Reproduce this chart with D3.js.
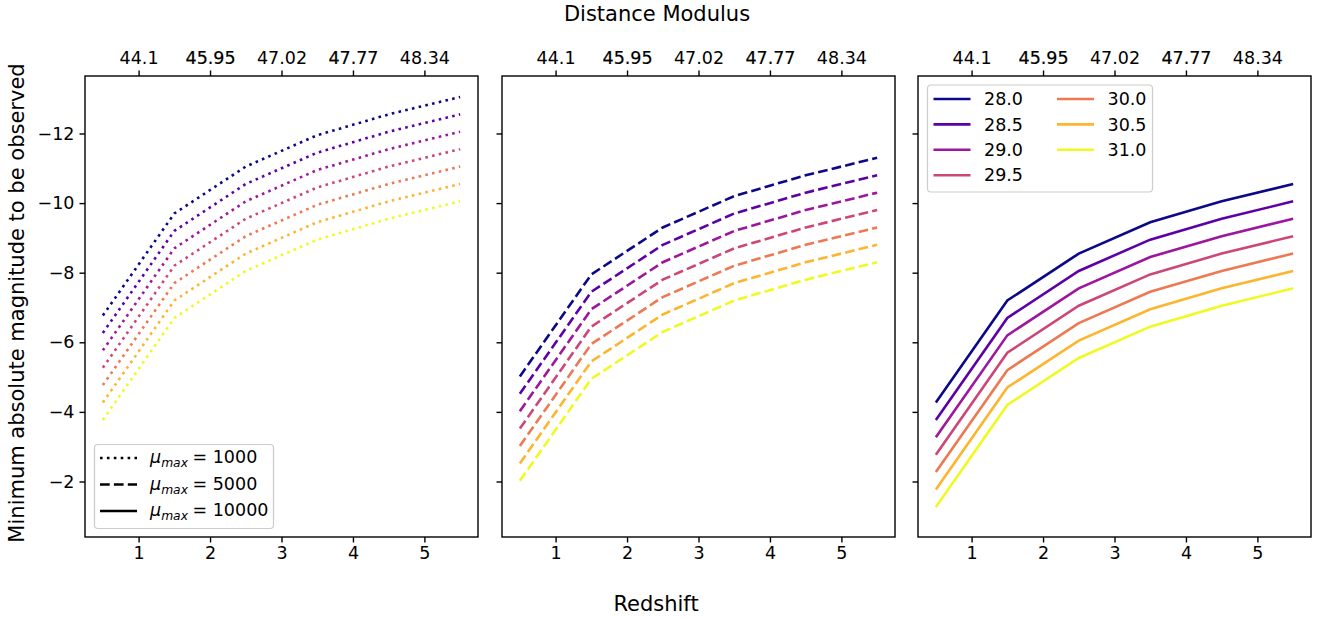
<!DOCTYPE html>
<meta charset="utf-8">
<style>

body { margin: 0; background: #fff; }
text { font-family: "DejaVu Sans", sans-serif; fill: #000; }
.tick line { stroke: #000; stroke-width: 1.4px; }
.frame { fill: none; stroke: #000; stroke-width: 1.4px; }
.series { fill: none; stroke-width: 2.6px; }

</style>
<svg width="1320" height="618">
  <rect fill="#fff" width="100%" height="100%"></rect>
</svg>
<script src="https://cdn.jsdelivr.net/npm/d3@7/dist/d3.min.js"></script>
<script>

var redshift = [0.5, 1.5, 2.5, 3.5, 4.5, 5.5];
var depths = ["28.0", "28.5", "29.0", "29.5", "30.0", "30.5", "31.0"];
var muMax = ["1000", "5000", "10000"];

// minimum absolute magnitude, one row per depth
var mag1000 = [
  [-6.77, -9.70, -11.05, -11.95, -12.55, -13.05],
  [-6.27, -9.20, -10.55, -11.45, -12.05, -12.55],
  [-5.77, -8.70, -10.05, -10.95, -11.55, -12.05],
  [-5.27, -8.20, -9.55, -10.45, -11.05, -11.55],
  [-4.77, -7.70, -9.05, -9.95, -10.55, -11.05],
  [-4.27, -7.20, -8.55, -9.45, -10.05, -10.55],
  [-3.77, -6.70, -8.05, -8.95, -9.55, -10.05]
];
var mag5000 = [
  [-5.02, -7.95, -9.30, -10.20, -10.80, -11.30],
  [-4.52, -7.45, -8.80, -9.70, -10.30, -10.80],
  [-4.02, -6.95, -8.30, -9.20, -9.80, -10.30],
  [-3.52, -6.45, -7.80, -8.70, -9.30, -9.80],
  [-3.02, -5.95, -7.30, -8.20, -8.80, -9.30],
  [-2.52, -5.45, -6.80, -7.70, -8.30, -8.80],
  [-2.02, -4.95, -6.30, -7.20, -7.80, -8.30]
];
var mag10000 = [
  [-4.27, -7.20, -8.55, -9.45, -10.05, -10.55],
  [-3.77, -6.70, -8.05, -8.95, -9.55, -10.05],
  [-3.27, -6.20, -7.55, -8.45, -9.05, -9.55],
  [-2.77, -5.70, -7.05, -7.95, -8.55, -9.05],
  [-2.27, -5.20, -6.55, -7.45, -8.05, -8.55],
  [-1.77, -4.70, -6.05, -6.95, -7.55, -8.05],
  [-1.27, -4.20, -5.55, -6.45, -7.05, -7.55]
];

var bottomTicks = [1, 2, 3, 4, 5];
var topTicks = [1, 2, 3, 4, 5];
var topLabels = ["44.1", "45.95", "47.02", "47.77", "48.34"];
var yTicks = [-12, -10, -8, -6, -4, -2];

var svg = d3.select("svg");

var panels = [
  {left: 85, data: mag1000, dash: "2.6,4.3"},
  {left: 502, data: mag5000, dash: "9.7,4.2"},
  {left: 918, data: mag10000, dash: null}
];
var panelWidth = 393,
    plotTop = 76,
    plotBottom = 537;

var y = d3.scaleLinear()
    .domain([-13.652, -0.405])
    .range([plotTop, plotBottom]);

var color = function(i) { return d3.interpolatePlasma(i / (depths.length - 1)); };
var fmt = function(d) { return String(d).replace("-", "\u2212"); };

panels.forEach(function(p, k) {
  var x = d3.scaleLinear()
      .domain([0.25, 5.75])
      .range([p.left, p.left + panelWidth]);

  var line = d3.line()
      .x(function(d, i) { return x(redshift[i]); })
      .y(function(d) { return y(d); });

  var g = svg.append("g");

  g.selectAll(".series")
    .data(p.data)
    .enter().append("path")
      .attr("class", "series")
      .attr("stroke", function(d, i) { return color(i); })
      .attr("stroke-dasharray", p.dash)
      .attr("d", line);

  g.append("g")
      .attr("transform", "translate(0," + plotBottom + ")")
      .call(d3.axisBottom(x).tickValues(bottomTicks).tickSize(5.5).tickPadding(4.5).tickFormat(fmt));

  var tx = g.append("g")
      .attr("transform", "translate(0," + plotTop + ")")
      .call(d3.axisTop(x).tickValues(topTicks).tickSize(5.5).tickPadding(7)
        .tickFormat(function(d, i) { return topLabels[i]; }));
  // these two labels look overdrawn (a little darker) in the original
  tx.selectAll(".tick text")
      .filter(function(d, i) { return i === 1 || i === 3; })
      .attr("stroke", "#000")
      .attr("stroke-width", 0.2);

  var ly = g.append("g")
      .attr("transform", "translate(" + p.left + ",0)")
      .call(d3.axisLeft(y).tickValues(yTicks).tickSize(5.5).tickPadding(5).tickFormat(fmt));
  if (k > 0) ly.selectAll(".tick text").remove();

  g.selectAll(".domain").remove();
  g.selectAll(".tick text")
      .attr("font-size", "17.5px")
      .attr("font-family", "DejaVu Sans, sans-serif");

  g.append("rect")
      .attr("class", "frame")
      .attr("x", p.left)
      .attr("y", plotTop)
      .attr("width", panelWidth)
      .attr("height", plotBottom - plotTop);
});

// legend: line styles (first panel)
var leg1 = svg.append("g");
leg1.append("rect")
    .attr("x", 94.5).attr("y", 444.5)
    .attr("width", 179).attr("height", 84)
    .attr("rx", 3.5)
    .attr("fill", "#fff").attr("fill-opacity", 0.8)
    .attr("stroke", "#cccccc").attr("stroke-width", 1.2);

var styleRows = leg1.selectAll(".row")
    .data(muMax)
  .enter().append("g")
    .attr("transform", function(d, i) { return "translate(0," + [458, 484.5, 511][i] + ")"; });

styleRows.append("line")
    .attr("x1", 100).attr("x2", 137)
    .attr("stroke", "#000").attr("stroke-width", 2.6)
    .attr("stroke-dasharray", function(d, i) { return panels[i].dash; });

var lt = styleRows.append("text")
    .attr("x", 150).attr("y", 5)
    .attr("font-size", "17.5px");
lt.append("tspan").attr("font-style", "italic").text("\u03bc");
lt.append("tspan").attr("font-style", "italic").attr("font-size", "12.3px").attr("dy", 4).text("max");
lt.append("tspan").attr("dy", -4).attr("dx", -1).text(function(d) { return " = " + d; });

// legend: depths (third panel)
var leg3 = svg.append("g");
leg3.append("rect")
    .attr("x", 927.5).attr("y", 85)
    .attr("width", 225).attr("height", 107)
    .attr("rx", 3.5)
    .attr("fill", "#fff").attr("fill-opacity", 0.8)
    .attr("stroke", "#cccccc").attr("stroke-width", 1.2);

var depthRows = leg3.selectAll(".row")
    .data(depths)
  .enter().append("g")
    .attr("transform", function(d, i) {
      var col = i < 4 ? 0 : 1, row = i < 4 ? i : i - 4;
      return "translate(" + (col * 123.5) + "," + (99 + row * 25.4) + ")";
    });

depthRows.append("line")
    .attr("x1", 933.5).attr("x2", 970.5)
    .attr("stroke", function(d, i) { return color(i); })
    .attr("stroke-width", 2.6);

depthRows.append("text")
    .attr("x", 984).attr("y", 6.2)
    .attr("font-size", "17.5px")
    .text(function(d) { return d; });

// figure labels
svg.append("text")
    .attr("x", 657).attr("y", 21)
    .attr("text-anchor", "middle")
    .attr("font-size", "21px")
    .text("Distance Modulus");

svg.append("text")
    .attr("x", 656).attr("y", 611)
    .attr("text-anchor", "middle")
    .attr("font-size", "21px")
    .text("Redshift");

svg.append("text")
    .attr("transform", "translate(24,303) rotate(-90)")
    .attr("text-anchor", "middle")
    .attr("font-size", "21px")
    .text("Minimum absolute magnitude to be observed");

</script>
